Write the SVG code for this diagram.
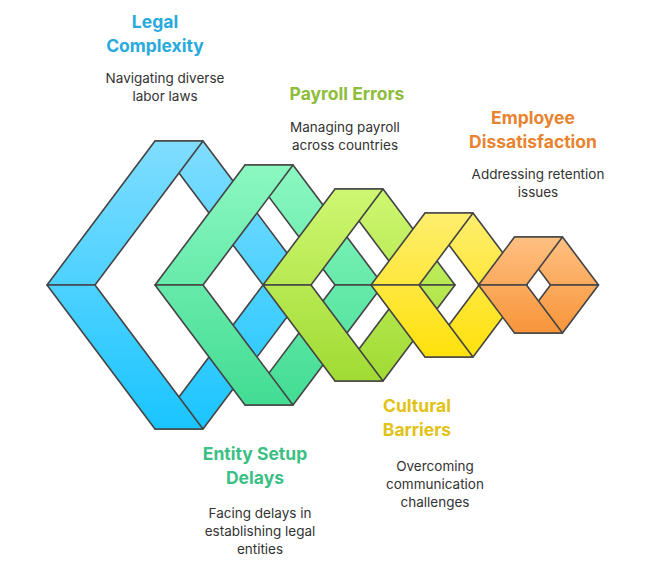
<svg xmlns="http://www.w3.org/2000/svg" width="647" height="578" viewBox="0 0 647 578">
<style>
.f{stroke:#444;stroke-width:1.6;stroke-linejoin:round}
.t{font-family:Inter,"Liberation Sans",sans-serif;font-weight:700;font-size:17.5px;text-anchor:middle}
.d{font-family:Inter,"Liberation Sans",sans-serif;font-size:13.5px;fill:#333;text-anchor:middle}
</style>
<defs>
<linearGradient id="gb" gradientUnits="userSpaceOnUse" x1="0" y1="141" x2="0" y2="429"><stop offset="0" stop-color="#80ddff"/><stop offset="1" stop-color="#1ac5ff"/></linearGradient>
<linearGradient id="gg" gradientUnits="userSpaceOnUse" x1="0" y1="165" x2="0" y2="405"><stop offset="0" stop-color="#8cf8c2"/><stop offset="1" stop-color="#42dc93"/></linearGradient>
<linearGradient id="gl" gradientUnits="userSpaceOnUse" x1="0" y1="189" x2="0" y2="381"><stop offset="0" stop-color="#cff772"/><stop offset="1" stop-color="#a0db33"/></linearGradient>
<linearGradient id="gy" gradientUnits="userSpaceOnUse" x1="0" y1="213" x2="0" y2="357"><stop offset="0" stop-color="#fdee6e"/><stop offset="1" stop-color="#ffe10c"/></linearGradient>
<linearGradient id="go" gradientUnits="userSpaceOnUse" x1="0" y1="237" x2="0" y2="333"><stop offset="0" stop-color="#ffc082"/><stop offset="1" stop-color="#f8953a"/></linearGradient>
</defs>
<g id="legal" fill="url(#gb)">
<path class="f" d="M155,141 L203,141 L311,285 L263,285 Z"/>
<path class="f" d="M155,429 L203,429 L311,285 L263,285 Z"/>
<path class="f" d="M47,285 L155,141 L203,141 L95,285 Z"/>
<path class="f" d="M47,285 L155,429 L203,429 L95,285 Z"/>
</g>
<g id="entity" fill="url(#gg)">
<path class="f" d="M245,165 L293,165 L383,285 L335,285 Z"/>
<path class="f" d="M245,405 L293,405 L383,285 L335,285 Z"/>
<path class="f" d="M155,285 L245,165 L293,165 L203,285 Z"/>
<path class="f" d="M155,285 L245,405 L293,405 L203,285 Z"/>
</g>
<g id="payroll" fill="url(#gl)">
<path class="f" d="M335,189 L383,189 L455,285 L407,285 Z"/>
<path class="f" d="M335,381 L383,381 L455,285 L407,285 Z"/>
<path class="f" d="M263,285 L335,189 L383,189 L311,285 Z"/>
<path class="f" d="M263,285 L335,381 L383,381 L311,285 Z"/>
</g>
<g id="cultural" fill="url(#gy)">
<path class="f" d="M425,213 L473,213 L527,285 L479,285 Z"/>
<path class="f" d="M425,357 L473,357 L527,285 L479,285 Z"/>
<path class="f" d="M371,285 L425,213 L473,213 L419,285 Z"/>
<path class="f" d="M371,285 L425,357 L473,357 L419,285 Z"/>
</g>
<g id="employee" fill="url(#go)">
<path class="f" d="M514.5,237 L562.5,237 L598.5,285 L550.5,285 Z"/>
<path class="f" d="M514.5,333 L562.5,333 L598.5,285 L550.5,285 Z"/>
<path class="f" d="M478.5,285 L514.5,237 L562.5,237 L526.5,285 Z"/>
<path class="f" d="M478.5,285 L514.5,333 L562.5,333 L526.5,285 Z"/>
</g>
<g id="labels">
<text class="t" fill="#29aadc" x="155" y="28">Legal</text>
<text class="t" fill="#29aadc" x="155" y="52">Complexity</text>
<text class="d" x="165" y="83">Navigating diverse</text>
<text class="d" x="165" y="101">labor laws</text>
<text class="t" fill="#8dbd3a" x="347" y="100">Payroll Errors</text>
<text class="d" x="345" y="132">Managing payroll</text>
<text class="d" x="345" y="150">across countries</text>
<text class="t" fill="#e8832f" x="533" y="124">Employee</text>
<text class="t" fill="#e8832f" x="533" y="148">Dissatisfaction</text>
<text class="d" x="538" y="179">Addressing retention</text>
<text class="d" x="538" y="197">issues</text>
<text class="t" fill="#e2c214" x="417" y="412">Cultural</text>
<text class="t" fill="#e2c214" x="417" y="436">Barriers</text>
<text class="d" x="435" y="471">Overcoming</text>
<text class="d" x="435" y="489">communication</text>
<text class="d" x="435" y="507">challenges</text>
<text class="t" fill="#3cbf85" x="255" y="460">Entity Setup</text>
<text class="t" fill="#3cbf85" x="255" y="484">Delays</text>
<text class="d" x="260" y="518">Facing delays in</text>
<text class="d" x="260" y="536">establishing legal</text>
<text class="d" x="260" y="554">entities</text>
</g>
</svg>
